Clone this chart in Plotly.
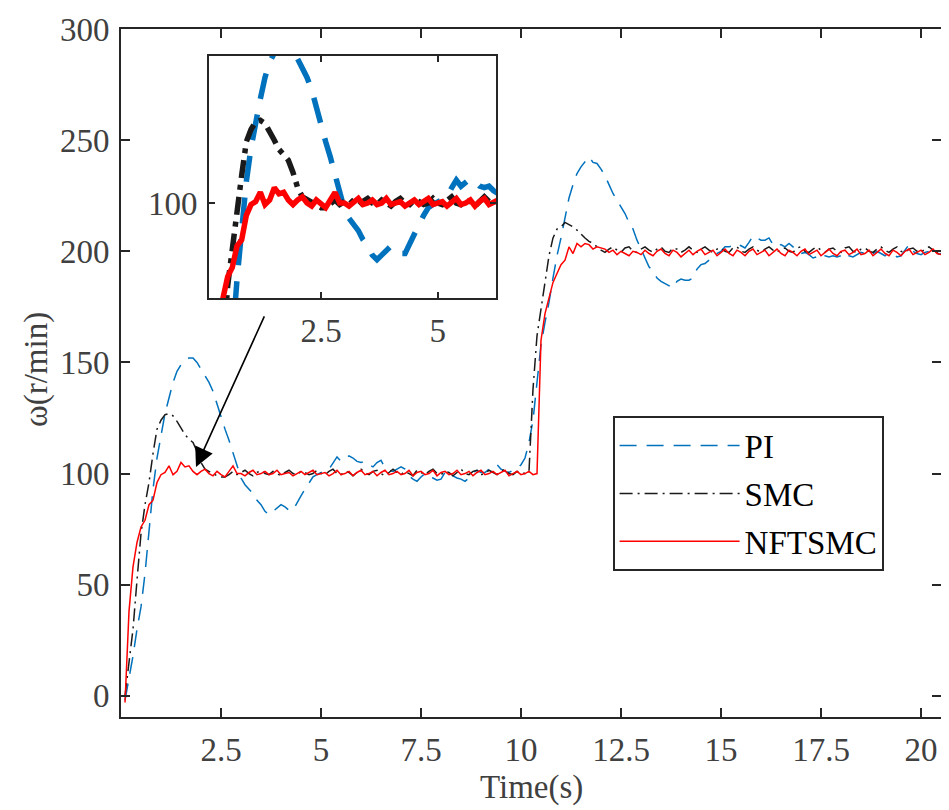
import plotly.graph_objects as go

# time axis (s), sample step 0.1 s
t = [round(0.1 * i, 1) for i in range(1, 206)]

pi_speed = [
    -2, 8, 18, 30, 40, 55, 75, 93, 107, 118,
    127, 134, 141, 146, 149, 151, 152, 152, 150, 147,
    144, 141, 137, 131, 126, 120, 115, 109, 103, 98,
    95, 93, 91, 88, 86, 83, 81.5, 83, 84.5, 86,
    85, 83.5, 83.5, 87, 90, 93, 96, 98.5, 99.5, 100.5,
    101.5, 102, 105, 107.5, 105.5, 106.5, 108, 107, 105.5, 105,
    105.5, 104, 103, 105, 106, 102.5, 101.5, 101, 102, 103,
    102, 99, 97.5, 96.5, 98.5, 100, 98.5, 98, 97, 97.5,
    100.5, 101, 99, 98, 97.5, 96.5, 98, 100.5, 101.5, 100.5,
    100.5, 102, 103, 104, 102, 101, 100.5, 101.5, 102, 104,
    107, 114, 124, 142, 158, 168, 177, 188, 198, 206,
    215, 224, 230, 235, 238, 240, 242.5, 240, 239.5, 237,
    234, 230, 226, 223, 220, 217, 213, 210, 205, 201,
    197, 193, 191, 188, 186.5, 185.5, 184.5, 183.5, 186.5, 187.5,
    187, 187, 188, 192, 194, 194.5, 196, 198, 199, 200,
    202, 202, 202.5, 203.5, 202.5, 201.5, 204, 207, 206, 205,
    205, 206, 203, 202, 203, 202, 203.5, 202, 200, 199,
    199.5, 198.5, 197, 197.5, 199, 198, 197.5, 198, 197.5, 198,
    199.5, 198, 197.5, 198.5, 199.5, 199, 198, 199, 200, 199,
    198, 199.5, 198.5, 197.5, 198, 200.5, 203, 200, 199, 198.5,
    199.5, 200, 199, 198.5, 199,
]

smc_speed = [
    0, 15, 30, 52, 73, 86, 96, 109, 120, 124,
    126.5, 127, 126, 123.5, 120.5, 117.5, 115.5, 114, 110, 105,
    102, 101, 100, 99, 98.5, 98.5, 99.5, 101, 99.5, 100.5,
    101.5, 100, 99, 100.5, 101.5, 100, 99.5, 101, 100, 99,
    100.5, 101.5, 100, 99.5, 101, 100.5, 99.5, 100, 101.5, 100,
    99.5, 101, 102, 100, 99.5, 101, 100.5, 99, 100.5, 102,
    100.5, 99.5, 101, 101.5, 100, 99, 100.5, 102, 100.5, 99.5,
    101, 100, 99, 101.5, 100.5, 99.5, 101, 102, 100, 99.5,
    101, 100.5, 99, 100.5, 102, 100, 99.5, 101, 101.5, 99.5,
    100, 101.5, 100.5, 99.5, 101, 102, 100, 99.5, 101, 100.5,
    100, 101, 138, 162, 174, 186, 198, 206, 210, 211,
    213, 212, 211, 209.5, 207.5, 206, 204.5, 203.5, 202, 200.5,
    199.5, 201, 202, 200.5, 199.5, 201.5, 202, 200, 199.5, 201,
    202, 200.5, 199.5, 201, 202, 200, 199.5, 201.5, 201, 199.5,
    200.5, 202, 200.5, 199.5, 201, 202, 200.5, 199.5, 201, 201.5,
    200, 199.5, 201.5, 202, 200, 199.5, 201, 202, 200.5, 199.5,
    201, 202, 200.5, 199.5, 201, 201.5, 200, 199.5, 201.5, 202,
    200, 199.5, 201, 202, 200.5, 199.5, 201, 201.5, 200, 199.5,
    201.5, 202, 200, 199.5, 201, 201.5, 200, 199.5, 201, 202,
    200.5, 199.5, 201, 202, 200, 199.5, 201, 201.5, 200, 199.5,
    201, 202, 200.5, 199.5, 201,
]

nftsmc_speed = [
    -3, 38, 58, 69, 76, 79, 86, 88, 96, 99.5,
    100.5, 103.5, 99.5, 101, 105, 103, 103.5, 101, 99.5, 101,
    102, 100, 99, 101, 99.5, 98.5, 101, 103.5, 100, 100,
    99, 100.5, 101.5, 99.5, 100, 101, 99.5, 100, 101.5, 99.5,
    100, 100.5, 99, 100, 101, 99.5, 100.5, 101.5, 99.5, 100,
    100.5, 99, 100, 101.5, 99.5, 100, 101, 99, 100.5, 101.5,
    99.5, 100, 101, 99, 100.5, 101.5, 99.5, 100, 101, 99.5,
    100, 101.5, 99, 100.5, 101, 99.5, 100, 101.5, 99, 100.5,
    101, 99.5, 100, 101.5, 99.5, 100, 101, 99, 100.5, 101.5,
    99.5, 100, 101, 99.5, 100.5, 101.5, 99, 100, 101, 99.5,
    100, 101, 99.5, 100, 160, 172, 179, 186, 190, 194,
    196, 202, 199, 203.5, 202, 203.5, 203, 201, 202, 201.5,
    201, 199.5, 200.5, 198.5, 200, 199, 198, 200, 199.5, 198.5,
    200.5, 199, 198, 200, 201, 199, 198, 200.5, 199.5, 197.5,
    199, 200.5, 198.5, 200, 201, 198.5, 199.5, 200.5, 198, 199.5,
    201, 199, 198, 200.5, 199.5, 198, 200, 201, 198.5, 199.5,
    200.5, 198, 199.5, 201, 199, 198, 200.5, 199.5, 198, 200,
    201, 198.5, 199.5, 200.5, 198, 199.5, 201, 199, 198, 200,
    200.5, 198.5, 199.5, 201, 198.5, 199, 200.5, 198, 199.5, 201,
    199, 198, 200.5, 199.5, 198, 200, 201, 198.5, 199.5, 200.5,
    198.5, 199.5, 201, 199, 198.5,
]

names = ["PI", "SMC", "NFTSMC"]
x_ticks = [2.5, 5, 7.5, 10, 12.5, 15, 17.5, 20]
x_ticklabels = ["2.5", "5", "7.5", "10", "12.5", "15", "17.5", "20"]
y_ticks = [0, 50, 100, 150, 200, 250, 300]
inset_x_ticks = [2.5, 5]
inset_y_ticks = [100]

BLUE = "#0072BD"
BLACK = "#1a1a1a"
RED = "#FF0000"
FONT = "Liberation Serif"
GRAY = "#404040"
FS = 33

series = [pi_speed, smc_speed, nftsmc_speed]
colors = [BLUE, BLACK, RED]
main_dash = ["17px,10px", "13px,5px,2px,5px", "solid"]
inset_dash = ["26px,16px", "18px,7px,5px,7px", "solid"]

fig = go.Figure()
for i, (nm, ys, c) in enumerate(zip(names, series, colors)):
    fig.add_trace(go.Scatter(
        x=t, y=ys, mode="lines", name=nm, legendgroup=nm,
        line=dict(color=c, width=1.5, dash=main_dash[i]),
    ))
for i, (nm, ys, c) in enumerate(zip(names, series, colors)):
    fig.add_trace(go.Scatter(
        x=t, y=ys, mode="lines", name=nm, showlegend=False,
        xaxis="x2", yaxis="y2",
        line=dict(color=c, width=5.5, dash=inset_dash[i]),
    ))

W, H = 949, 810
OFF = 8  # page body margin
# plot box in page pixels
L, R, T, B = 121, 941, 29, 717
pw, ph = R - L, B - T


def px_x(p):
    return (p - L) / pw


def px_y(p):
    return (B - p) / ph


axis_common = dict(
    showline=True, linecolor="#262626", linewidth=1.6, mirror="ticks",
    ticks="inside", tickcolor="#262626", tickwidth=1.6,
    showgrid=False, zeroline=False,
    tickfont=dict(family=FONT, size=FS, color=GRAY),
)

fig.update_layout(
    width=W, height=H,
    margin=dict(l=L - OFF, r=W - (R - OFF), t=T - OFF, b=H - (B - OFF),
                autoexpand=False),
    paper_bgcolor="white", plot_bgcolor="white",
    xaxis=dict(range=[0, 20.5], tickvals=x_ticks, ticktext=x_ticklabels,
               ticklen=9, ticklabelstandoff=3, **axis_common),
    yaxis=dict(range=[-9.5, 300], tickvals=y_ticks, ticklen=9,
               ticklabelstandoff=3, **axis_common),
    xaxis2=dict(domain=[px_x(209), px_x(496)], anchor="y2", range=[0.1, 6.25],
                tickvals=inset_x_ticks, ticktext=["2.5", "5"], ticklen=6,
                ticklabelstandoff=3, **axis_common),
    yaxis2=dict(domain=[px_y(298), px_y(56)], anchor="x2", range=[69, 148],
                tickvals=inset_y_ticks, ticklen=6, ticklabelstandoff=3,
                **axis_common),
    showlegend=True,
    legend=dict(
        x=px_x(613), y=px_y(416), xanchor="left", yanchor="top",
        bgcolor="white", bordercolor="#262626", borderwidth=1.6,
        font=dict(family=FONT, size=FS, color="black"),
        itemwidth=120, tracegroupgap=2,
    ),
    annotations=[
        dict(text="Time(s)", xref="paper", yref="paper", x=px_x(531), y=px_y(787),
             xanchor="center", yanchor="middle", showarrow=False,
             font=dict(family=FONT, size=FS, color=GRAY)),
        dict(text="ω(r/min)", xref="paper", yref="paper", x=px_x(36), y=px_y(370),
             xanchor="center", yanchor="middle", showarrow=False, textangle=-90,
             font=dict(family=FONT, size=FS, color=GRAY)),
        dict(text="", x=1.875, y=103, ax=3.6, ay=171.4, xref="x", yref="y",
             axref="x", ayref="y", showarrow=True, arrowhead=2, arrowsize=2.4,
             arrowwidth=1.6, arrowcolor="black", standoff=0),
    ],
)

fig.write_html("out.html")
